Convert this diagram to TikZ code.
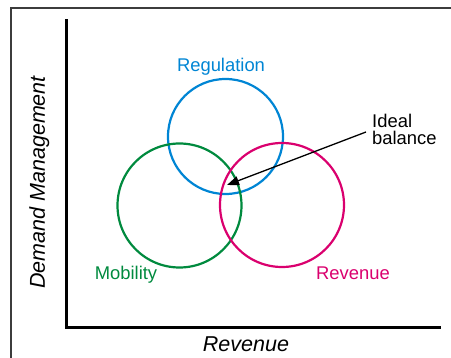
\documentclass[tikz,border=0pt]{standalone}
\usepackage{fontspec}
\setmainfont{Liberation Sans}
\usetikzlibrary{arrows.meta}
\definecolor{regblue}{RGB}{0,133,212}
\definecolor{mobgreen}{RGB}{0,138,62}
\definecolor{revred}{RGB}{218,0,110}
\definecolor{framegray}{RGB}{60,60,60}
\begin{document}
\begin{tikzpicture}[x=1pt,y=-1pt,
  ring/.style={line width=2.2pt},
  lbl/.style={inner sep=0pt,font=\fontsize{18.4}{18}\selectfont},
  axislbl/.style={inner sep=0pt,font=\fontsize{21.5}{22}\selectfont\itshape},
  axisline/.style={line width=2.7pt,line cap=rect},
  pointer/.style={line width=1.3pt,-{Triangle[length=12pt,width=9pt]}}]
  \useasboundingbox (0,0) rectangle (451,358);
  % outer frame (open to the right and bottom)
  \draw[framegray,line width=1.3pt] (11,358) -- (11,8) -- (451,8);
  % axes
  \draw[axisline] (66.5,20) -- (66.5,327.5) -- (440,327.5);
  \node[axislbl,anchor=base] (xlab) at (246,352) {Revenue};
  \node[axislbl,anchor=base,rotate=90] (ylab) at (45,182.5) {Demand Management};
  % the three overlapping circles
  \draw[ring,regblue] (225.5,136.5) circle (57.5);
  \draw[ring,mobgreen] (179.5,205.5) circle (62);
  \draw[ring,revred] (282,205) circle (62);
  \node[lbl,regblue,anchor=base] (reg) at (221,72) {Regulation};
  \node[lbl,mobgreen,anchor=base] (mob) at (126,280) {Mobility};
  \node[lbl,revred,anchor=base] (rev) at (353,280) {Revenue};
  % annotation
  \node[lbl,anchor=base west] (ideal) at (372,128) {Ideal};
  \node[lbl,anchor=base west] (bal) at (372,144.7) {balance};
  \coordinate (tail) at (366,132);
  \coordinate (spot) at (227,185);
  \draw[pointer] (tail) -- (spot);
\end{tikzpicture}
\end{document}
